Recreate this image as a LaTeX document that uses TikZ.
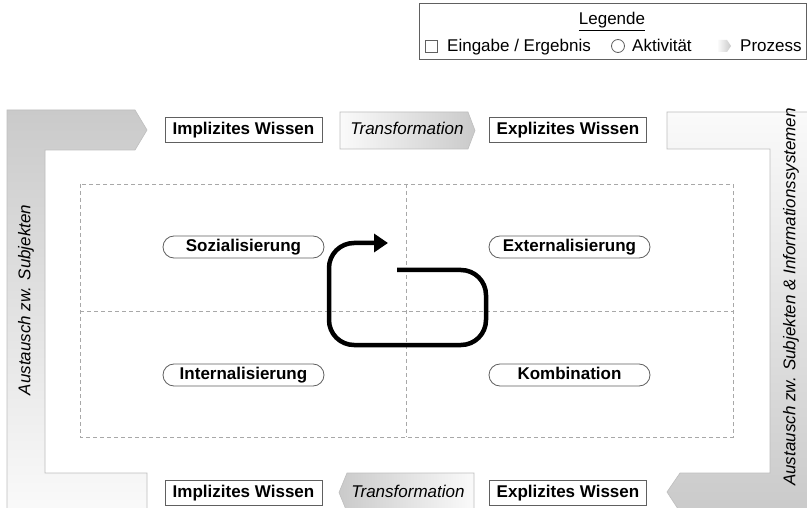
\documentclass[tikz,border=0pt]{standalone}
\usepackage{fontspec}
\setmainfont{Liberation Sans}
\usetikzlibrary{arrows.meta}
\definecolor{edgegray}{HTML}{606060}
\definecolor{flowgray}{HTML}{CACACA}
\definecolor{flowlight}{HTML}{FAFAFA}
\definecolor{flowline}{HTML}{BEBEBE}
\definecolor{gridgray}{HTML}{A8A8A8}
\tikzset{
  x=1pt, y=-1pt,
  txt/.style={font=\fontsize{17}{20}\selectfont, inner sep=0pt},
  knowbox/.style={draw=edgegray, line width=0.8pt, fill=white,
    minimum width=157pt, minimum height=25pt, inner sep=0pt,
    text height=12.5pt, text depth=3.5pt,
    font=\fontsize{17}{20}\selectfont\bfseries},
  phasebox/.style={draw=edgegray, line width=0.8pt, fill=white,
    rounded corners=11pt, minimum width=161pt, minimum height=22pt,
    inner sep=0pt, text height=12.5pt, text depth=3.5pt,
    font=\fontsize{17}{20}\selectfont\bfseries},
  flowshape/.style={draw=flowline, line width=0.6pt},
  sidetext/.style={rotate=90, inner sep=0pt,
    font=\fontsize{17}{20}\selectfont\itshape},
  processtext/.style={inner sep=0pt, text height=12.5pt, text depth=3.5pt,
    font=\fontsize{17}{20}\selectfont\itshape},
  gridline/.style={draw=gridgray, line width=0.7pt, dash pattern=on 4pt off 3pt},
  cycleline/.style={line width=4.5pt, rounded corners=25pt},
}
\begin{document}
\begin{tikzpicture}
\useasboundingbox (0,0) rectangle (807,508);
\clip (0,0) rectangle (807,508);
\fill[white] (0,0) rectangle (807,508);

% legend
\draw[edgegray, line width=0.8pt, fill=white] (419,3) rectangle (806,59);
\node[txt, anchor=base] (legtitle) at (612,25) {\underline{Legende}};
\draw[edgegray, line width=0.8pt] (425,40) rectangle (437,52);
\node[txt, anchor=base west] (legin) at (447,51.5) {Eingabe / Ergebnis};
\draw[edgegray, line width=0.8pt] (618,46) circle (6.5);
\node[txt, anchor=base west] (legact) at (632,51.5) {Aktivität};
\shade[left color=flowlight, right color=flowgray]
  (718,40) -- (727,40) -- (731,46) -- (727,52) -- (718,52) -- cycle;
\node[txt, anchor=base west] (legproc) at (740,51.5) {Prozess};

% exchange flows along the sides
\draw[flowshape, top color=flowgray, bottom color=flowlight]
  (7,512) -- (7,110) -- (135,110) -- (147,130) -- (135,150) -- (45,150)
  -- (45,473) -- (147,473) -- (147,512) -- cycle;
\draw[flowshape, top color=flowlight, bottom color=flowgray]
  (667,112) -- (812,112) -- (812,512) -- (680,512) -- (667,492) -- (680,473)
  -- (770,473) -- (770,149) -- (667,149) -- cycle;
\node[sidetext] (leftlabel) at (26,300) {Austausch zw. Subjekten};
\node[sidetext] (rightlabel) at (791,297) {Austausch zw. Subjekten \& Informationssystemen};

% transformation processes
\draw[flowshape, left color=flowlight, right color=flowgray]
  (340,112) -- (468,112) -- (475,130.5) -- (468,149) -- (340,149) -- cycle;
\node[processtext] (transtop) at (407,130.5) {Transformation};
\draw[flowshape, left color=flowgray, right color=flowlight]
  (347,473) -- (474,473) -- (474,512) -- (347,512) -- (339,492.5) -- cycle;
\node[processtext] (transbot) at (408,492.5) {Transformation};

% knowledge inputs and results
\node[knowbox] (impltop) at (243.5,130) {Implizites Wissen};
\node[knowbox] (expltop) at (568,130) {Explizites Wissen};
\node[knowbox] (implbot) at (243.5,493) {Implizites Wissen};
\node[knowbox] (explbot) at (568,493) {Explizites Wissen};

% quadrant grid
\draw[gridline] (80,184) rectangle (733,437);
\draw[gridline] (406,184) -- (406,437);
\draw[gridline] (80,311) -- (733,311);

% conversion activities
\node[phasebox] (sozial) at (243.5,247) {Sozialisierung};
\node[phasebox] (extern) at (569.5,247) {Externalisierung};
\node[phasebox] (intern) at (243.5,375) {Internalisierung};
\node[phasebox] (kombi) at (569.5,375) {Kombination};

% knowledge spiral
\coordinate (spiralstart) at (397,270);
\coordinate (spiralend) at (388,243);
\draw[cycleline, -{Triangle[length=14pt, width=18pt]}]
  (spiralstart) -- (486,270) -- (486,345) -- (329,345) -- (329,243) -- (spiralend);
\end{tikzpicture}
\end{document}
